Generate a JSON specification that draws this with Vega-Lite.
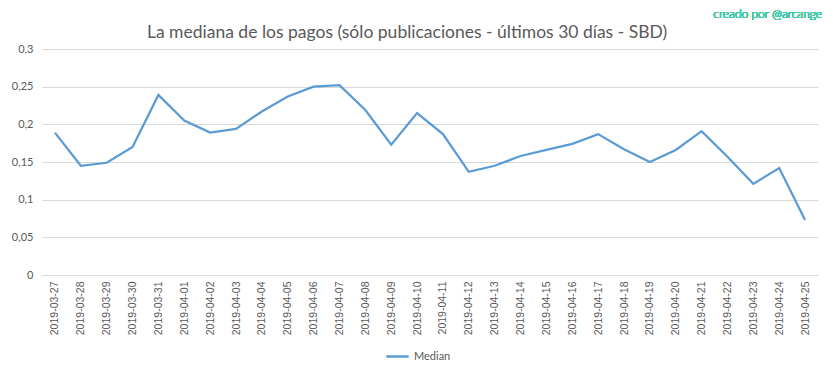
{
  "$schema": "https://vega.github.io/schema/vega-lite/v6.json",
  "width": 776,
  "height": 226,
  "autosize": {"type": "none"},
  "padding": {"left": 42, "top": 49, "right": 15, "bottom": 103},
  "background": "white",
  "config": {
    "view": {"stroke": null},
    "font": "Lato"
  },
  "title": {
    "text": "La mediana de los pagos (sólo publicaciones - últimos 30 días - SBD)",
    "font": "Lato",
    "fontSize": 17.5,
    "fontWeight": "normal",
    "color": "#595959",
    "anchor": "middle",
    "frame": "group",
    "dx": -23,
    "offset": -33
  },
  "data": {
    "values": [
      {"date": "2019-03-27", "median": 0.189},
      {"date": "2019-03-28", "median": 0.145},
      {"date": "2019-03-29", "median": 0.149},
      {"date": "2019-03-30", "median": 0.170},
      {"date": "2019-03-31", "median": 0.239},
      {"date": "2019-04-01", "median": 0.205},
      {"date": "2019-04-02", "median": 0.189},
      {"date": "2019-04-03", "median": 0.194},
      {"date": "2019-04-04", "median": 0.217},
      {"date": "2019-04-05", "median": 0.237},
      {"date": "2019-04-06", "median": 0.250},
      {"date": "2019-04-07", "median": 0.252},
      {"date": "2019-04-08", "median": 0.219},
      {"date": "2019-04-09", "median": 0.173},
      {"date": "2019-04-10", "median": 0.215},
      {"date": "2019-04-11", "median": 0.187},
      {"date": "2019-04-12", "median": 0.137},
      {"date": "2019-04-13", "median": 0.145},
      {"date": "2019-04-14", "median": 0.158},
      {"date": "2019-04-15", "median": 0.166},
      {"date": "2019-04-16", "median": 0.174},
      {"date": "2019-04-17", "median": 0.187},
      {"date": "2019-04-18", "median": 0.167},
      {"date": "2019-04-19", "median": 0.150},
      {"date": "2019-04-20", "median": 0.166},
      {"date": "2019-04-21", "median": 0.191},
      {"date": "2019-04-22", "median": 0.157},
      {"date": "2019-04-23", "median": 0.121},
      {"date": "2019-04-24", "median": 0.142},
      {"date": "2019-04-25", "median": 0.073}
    ]
  },
  "encoding": {
    "x": {
      "field": "date",
      "type": "ordinal",
      "sort": null,
      "scale": {"type": "point", "padding": 0.5},
      "axis": {
        "title": null,
        "labelAngle": -90,
        "labelFont": "Liberation Sans",
        "labelFontSize": 10.5,
        "labelColor": "#595959",
        "labelPadding": 6,
        "ticks": false,
        "domainColor": "#d9d9d9",
        "domainWidth": 1,
        "grid": false
      }
    },
    "y": {
      "field": "median",
      "type": "quantitative",
      "scale": {"domain": [0, 0.3], "nice": false},
      "axis": {
        "title": null,
        "values": [0, 0.05, 0.1, 0.15, 0.2, 0.25, 0.3],
        "labelExpr": "replace(format(datum.value, '.2~f'), '.', ',')",
        "labelFont": "Lato",
        "labelFontSize": 11,
        "labelColor": "#595959",
        "labelPadding": 9,
        "ticks": false,
        "domain": false,
        "gridColor": "#d9d9d9",
        "gridWidth": 1
      }
    }
  },
  "layer": [
    {
      "mark": {"type": "line", "strokeWidth": 2.25},
      "encoding": {
        "color": {
          "datum": "Median",
          "scale": {"range": ["#5b9bd5"]},
          "legend": {
            "title": null,
            "orient": "none",
            "legendX": 343,
            "legendY": 295,
            "direction": "horizontal",
            "symbolType": "stroke",
            "symbolSize": 500,
            "symbolStrokeWidth": 2.5,
            "labelFont": "Lato",
            "labelFontSize": 11,
            "labelColor": "#595959"
          }
        }
      }
    },
    {
      "mark": {
        "type": "text",
        "text": "creado por @arcange",
        "align": "right",
        "baseline": "middle",
        "dx": 17,
        "font": "Lato",
        "fontSize": 12,
        "fontWeight": 300,
        "color": "#45cba8"
      },
      "encoding": {
        "x": {"datum": "2019-04-25"},
        "y": {"datum": 0.346}
      }
    }
  ]
}
